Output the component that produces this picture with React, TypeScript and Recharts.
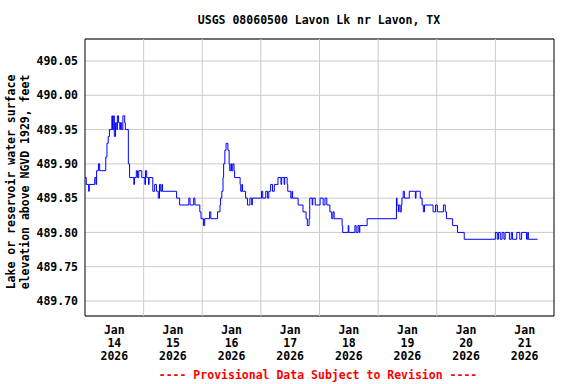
import React from 'react';
import { LineChart, Line, XAxis, YAxis, CartesianGrid, ReferenceLine, ReferenceArea } from 'recharts';

// Hours since Jan 14 2026 00:00 and lake elevation (ft) — step series (rows of 10)
const hours = [
  0, 0.5, 1.5, 1.75, 4, 4.5, 4.75, 5.5, 6, 8.5,
  9, 9.5, 10, 11, 11.25, 11.75, 12, 12.5, 13, 13.25,
  13.75, 14.25, 14.5, 15, 15.5, 16.25, 16.5, 17.75, 18.25, 20,
  20.25, 21, 21.5, 22, 23.25, 24.5, 24.75, 25.25, 26, 26.25,
  27.75, 28.5, 29.25, 30, 30.5, 31, 31.5, 31.75, 37.5, 38.75,
  42.5, 43, 44.5, 45, 47, 47.5, 48.5, 49, 51, 51.5,
  54.25, 55.25, 55.5, 56, 56.5, 56.75, 57.25, 57.75, 58.5, 59,
  59.25, 59.75, 60, 60.5, 61, 61.25, 63.5, 63.75, 64.25, 64.5,
  65.75, 66.5, 67.5, 68.25, 68.5, 72.25, 72.75, 74, 74.75, 75.25,
  76, 76.75, 77.5, 79, 80.25, 80.5, 81.5, 81.75, 82.75, 83,
  84.25, 84.75, 85, 87.25, 89.25, 90.5, 91, 91.75, 92, 93,
  93.25, 94.25, 96.25, 97.5, 98.25, 99, 100.25, 101, 101.5, 102,
  105.25, 105.5, 107.75, 108, 110.5, 111, 111.75, 112.25, 112.5, 115.5,
  127.5, 127.75, 128.25, 128.5, 129, 129.5, 129.75, 130.25, 130.75, 132.75,
  135.25, 135.5, 137.25, 138, 138.5, 139, 142.5, 143.5, 144.25, 146.75,
  147.5, 148, 150.5, 152.5, 155.25, 168, 168.75, 169.25, 170, 170.75,
  171.5, 172, 173.75, 174.5, 175, 176.75, 178, 178.75, 180.75, 181.25,
  181.5, 185.25,
];
const levels = [
  489.88, 489.87, 489.86, 489.87, 489.88, 489.87, 489.89, 489.90, 489.89, 489.91,
  489.93, 489.94, 489.95, 489.97, 489.95, 489.97, 489.94, 489.96, 489.95, 489.97,
  489.96, 489.95, 489.96, 489.95, 489.97, 489.96, 489.95, 489.90, 489.88, 489.87,
  489.88, 489.89, 489.88, 489.89, 489.88, 489.87, 489.89, 489.88, 489.87, 489.88,
  489.86, 489.87, 489.86, 489.85, 489.87, 489.86, 489.87, 489.86, 489.85, 489.84,
  489.85, 489.84, 489.85, 489.84, 489.83, 489.82, 489.81, 489.82, 489.83, 489.82,
  489.83, 489.84, 489.85, 489.86, 489.88, 489.90, 489.92, 489.93, 489.92, 489.90,
  489.89, 489.90, 489.89, 489.90, 489.89, 489.88, 489.87, 489.86, 489.87, 489.86,
  489.85, 489.84, 489.85, 489.84, 489.85, 489.86, 489.85, 489.86, 489.85, 489.86,
  489.87, 489.86, 489.87, 489.88, 489.87, 489.88, 489.87, 489.88, 489.87, 489.86,
  489.85, 489.86, 489.85, 489.84, 489.83, 489.82, 489.81, 489.82, 489.85, 489.84,
  489.85, 489.84, 489.85, 489.84, 489.85, 489.84, 489.83, 489.82, 489.83, 489.82,
  489.81, 489.80, 489.81, 489.80, 489.81, 489.80, 489.81, 489.80, 489.81, 489.82,
  489.85, 489.84, 489.83, 489.84, 489.83, 489.84, 489.85, 489.86, 489.85, 489.86,
  489.85, 489.86, 489.85, 489.84, 489.83, 489.84, 489.83, 489.84, 489.83, 489.84,
  489.83, 489.82, 489.81, 489.80, 489.79, 489.80, 489.79, 489.80, 489.79, 489.80,
  489.79, 489.80, 489.79, 489.80, 489.79, 489.80, 489.79, 489.80, 489.79, 489.80,
  489.79, 489.79,
];

const yTicks = [489.70, 489.75, 489.80, 489.85, 489.90, 489.95, 490.00, 490.05];
const yDomain = [489.6781, 490.0821];
const xDomain = [0, 192];
const labelHours = [12, 36, 60, 84, 108, 132, 156, 180];
const labelMonths = ['Jan', 'Jan', 'Jan', 'Jan', 'Jan', 'Jan', 'Jan', 'Jan'];
const labelDays = ['14', '15', '16', '17', '18', '19', '20', '21'];
const labelYears = ['2026', '2026', '2026', '2026', '2026', '2026', '2026', '2026'];
const midnightHours = [24, 48, 72, 96, 120, 144, 168];

const title = 'USGS 08060500 Lavon Lk nr Lavon, TX';
const yTitle1 = 'Lake or reservoir water surface';
const yTitle2 = 'elevation above NGVD 1929, feet';
const footer = '---- Provisional Data Subject to Revision ----';

const data = hours.map((h, i) => ({ h, v: levels[i] }));

const FONT = '"DejaVu Sans Mono", monospace';
const FS = 11.5;

const XTick = (props: any) => {
  const { x, y, payload } = props;
  const i = labelHours.indexOf(payload.value);
  if (i < 0) return null;
  return (
    <text x={x} textAnchor="middle" fontFamily={FONT} fontSize={FS} fontWeight="bold" fill="#000">
      <tspan x={x} y={y + 18}>{labelMonths[i]}</tspan>
      <tspan x={x} y={y + 31}>{labelDays[i]}</tspan>
      <tspan x={x} y={y + 44}>{labelYears[i]}</tspan>
    </text>
  );
};

export default function App() {
  return (
    <div style={{ position: 'absolute', left: 0, top: 0, width: 576, height: 384, background: '#fff' }}>
      <LineChart
        width={576}
        height={384}
        data={data}
        margin={{ top: 39, right: 22, bottom: 18, left: 15 }}
      >
        <CartesianGrid vertical={false} stroke="#cccccc" strokeWidth={1} />
        {midnightHours.map((h) => (
          <ReferenceLine key={h} x={h} stroke="#cccccc" strokeWidth={1} />
        ))}
        <XAxis
          type="number"
          dataKey="h"
          domain={xDomain}
          ticks={labelHours}
          allowDataOverflow
          axisLine={false}
          tickLine={false}
          tickSize={0}
          tickMargin={0}
          height={50}
          interval={0}
          tick={<XTick />}
        />
        <YAxis
          type="number"
          domain={yDomain}
          ticks={yTicks}
          allowDataOverflow
          axisLine={false}
          tickLine={false}
          tickSize={0}
          tickMargin={7}
          width={70}
          interval={0}
          tickFormatter={(v: number) => v.toFixed(2)}
          tick={{ fontFamily: FONT, fontSize: FS, fontWeight: 'bold', fill: '#000' }}
        />
        <Line
          type="stepAfter"
          dataKey="v"
          stroke="#0000ff"
          strokeWidth={1}
          dot={false}
          activeDot={false}
          isAnimationActive={false}
        />
        <ReferenceArea
          x1={xDomain[0]}
          x2={xDomain[1]}
          y1={yDomain[0]}
          y2={yDomain[1]}
          fill="none"
          fillOpacity={0}
          stroke="#000"
          strokeWidth={1}
          ifOverflow="visible"
        />
      </LineChart>
      <svg
        width={576}
        height={384}
        style={{ position: 'absolute', left: 0, top: 0, pointerEvents: 'none' }}
      >
        <text x={319} y={24} textAnchor="middle" fontFamily={FONT} fontSize={FS} fontWeight="bold" fill="#000">
          {title}
        </text>
        <text
          transform="translate(15,182) rotate(-90)"
          textAnchor="middle"
          fontFamily={FONT}
          fontSize={FS}
          fontWeight="bold"
          fill="#000"
        >
          {yTitle1}
        </text>
        <text
          transform="translate(29,182) rotate(-90)"
          textAnchor="middle"
          fontFamily={FONT}
          fontSize={FS}
          fontWeight="bold"
          fill="#000"
        >
          {yTitle2}
        </text>
        <text x={318} y={378.5} textAnchor="middle" fontFamily={FONT} fontSize={FS} fontWeight="bold" fill="#ff0000">
          {footer}
        </text>
      </svg>
    </div>
  );
}
